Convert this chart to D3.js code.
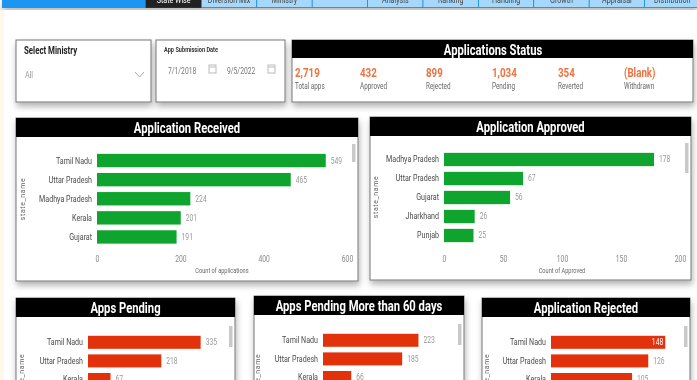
<!DOCTYPE html>
<html>
<head>
<meta charset="utf-8">
<script src="https://cdn.jsdelivr.net/npm/d3@7/dist/d3.min.js"></script>
<style>
html, body { margin: 0; padding: 0; background: #fff; overflow: hidden; }
svg { display: block; filter: blur(0.45px); }
text { font-family: "Roboto", sans-serif; }
</style>
</head>
<body>
<div id="root"></div>
<script>
// values
const navLabels = ['State Wise', 'Diversion Mix', 'Ministry', '', 'Analysis', 'Ranking', 'Handling', 'Growth', 'Appraisal', 'Distribution'];

const statusValues = ['2,719', '432', '899', '1,034', '354', '(Blank)'];
const statusLabels = ['Total apps', 'Approved', 'Rejected', 'Pending', 'Reverted', 'Withdrawn'];

const receivedStates = ['Tamil Nadu', 'Uttar Pradesh', 'Madhya Pradesh', 'Kerala', 'Gujarat'];
const receivedValues = [549, 465, 224, 201, 191];
const receivedTicks = [0, 200, 400, 600];

const approvedStates = ['Madhya Pradesh', 'Uttar Pradesh', 'Gujarat', 'Jharkhand', 'Punjab'];
const approvedValues = [178, 67, 56, 26, 25];
const approvedTicks = [0, 50, 100, 150, 200];

const pendingStates = ['Tamil Nadu', 'Uttar Pradesh', 'Kerala'];
const pendingValues = [335, 218, 67];
const pending60Values = [223, 185, 66];
const rejectedValues = [148, 126, 105];

const width = 697, height = 380;
const green = '#0ea42e', red = '#e2320c', orange = '#ee7240';
const squeeze = 0.75;

const svg = d3.select('#root').append('svg').attr('width', width).attr('height', height);
const defs = svg.append('defs');
const shadow = defs.append('filter').attr('id', 'shadow').attr('x', '-5%').attr('y', '-10%').attr('width', '110%').attr('height', '125%');
shadow.append('feDropShadow').attr('dx', 1).attr('dy', 4).attr('stdDeviation', 3).attr('flood-color', '#000').attr('flood-opacity', 0.3);

svg.append('rect').attr('width', width).attr('height', height).attr('fill', '#fff');
svg.append('rect').attr('width', 4).attr('height', height).attr('fill', '#fff8ea');

// top nav strip
svg.append('rect').attr('x', 2).attr('y', 0).attr('width', 695).attr('height', 8).attr('fill', '#1a96f0').attr('filter', 'url(#shadow)');
const navX = d3.scaleBand().domain(d3.range(navLabels.length)).range([146, 700]).padding(0);
const nav = svg.append('g').selectAll('g').data(navLabels).enter().append('g');
nav.append('rect')
    .attr('x', (d, i) => navX(i))
    .attr('y', -1)
    .attr('width', navX.bandwidth())
    .attr('height', 8.5)
    .attr('fill', (d, i) => i == 0 ? '#222' : '#a6d8fb')
    .attr('stroke', (d, i) => i == 0 ? '#222' : '#1a86d8')
    .attr('stroke-width', 0.7);
nav.append('text')
    .attr('x', (d, i) => navX(i) + navX.bandwidth() / 2)
    .attr('y', 2.5)
    .attr('text-anchor', 'middle')
    .attr('font-size', 9.5)
    .attr('fill', (d, i) => i == 0 ? '#fff' : '#444')
    .text(d => d);

function card(x, y, w, h) {
    return svg.append('rect').attr('x', x).attr('y', y).attr('width', w).attr('height', h)
        .attr('fill', '#fff').attr('stroke', '#777').attr('stroke-width', 1).attr('filter', 'url(#shadow)');
}

function calendar(x, y) {
    const g = svg.append('g').attr('transform', 'translate(' + x + ',' + y + ')').attr('fill', 'none').attr('stroke', '#bbb');
    g.append('rect').attr('width', 7).attr('height', 8);
    g.append('line').attr('x1', 0).attr('x2', 7).attr('y1', 2).attr('y2', 2);
}

// slicers
card(16, 40, 135, 62);
svg.append('text').attr('x', 24).attr('y', 54).attr('font-size', 10.5).attr('font-weight', 700).attr('fill', '#222').text('Select Ministry');
svg.append('text').attr('x', 25).attr('y', 78).attr('font-size', 9.5).attr('fill', '#999').text('All');
svg.append('path').attr('d', d3.line()([[135, 72], [139.5, 77], [144, 72]])).attr('fill', 'none').attr('stroke', '#aaa');

card(156, 40, 129, 62);
svg.append('text').attr('x', 164).attr('y', 52).attr('font-size', 7.5).attr('font-weight', 700).attr('fill', '#333').text('App Submission Date');
svg.append('text').attr('x', 168).attr('y', 74.5).attr('font-size', 9).attr('fill', '#777').text('7/1/2018');
svg.append('text').attr('x', 227).attr('y', 74.5).attr('font-size', 9).attr('fill', '#777').text('9/5/2022');
calendar(209, 65);
calendar(268, 65);

// status band
card(292, 40, 401, 62);
svg.append('rect').attr('x', 292).attr('y', 40).attr('width', 401).attr('height', 18).attr('fill', '#000');
svg.append('text').attr('x', 493).attr('y', 55).attr('text-anchor', 'middle').attr('font-size', 15).attr('font-weight', 700).attr('fill', '#fff').text('Applications Status');

const statusX = d3.scaleOrdinal().domain(statusLabels).range([295, 360, 426, 492, 558, 624]);
const status = svg.append('g').selectAll('g').data(statusLabels).enter().append('g');
status.append('text').attr('x', d => statusX(d)).attr('y', 77).attr('font-size', 13).attr('font-weight', 700).attr('fill', orange)
    .text((d, i) => statusValues[i]);
status.append('text').attr('x', d => statusX(d)).attr('y', 89.5).attr('font-size', 8.5).attr('fill', '#666').text(d => d);

// one titled bar panel, bars and axis come from the scales
function barPanel(o) {
    card(o.x, o.y, o.w, o.h);
    svg.append('rect').attr('x', o.x).attr('y', o.y).attr('width', o.w).attr('height', o.titleH).attr('fill', '#000');
    svg.append('text').attr('x', o.x + o.w / 2).attr('y', o.y + o.titleH - 4).attr('text-anchor', 'middle')
        .attr('font-size', 15).attr('font-weight', 700).attr('fill', '#fff').text(o.title);

    const xScale = d3.scaleLinear().domain(o.domain).range([o.left, o.right]);
    const yScale = d3.scaleBand().domain(o.states).range([o.top, o.top + o.states.length * o.step]).paddingInner(0.3).paddingOuter(0.15);

    const g = svg.append('g');
    g.selectAll('rect').data(o.states).enter().append('rect')
        .attr('x', o.left)
        .attr('y', d => yScale(d))
        .attr('width', (d, i) => xScale(o.values[i]) - o.left)
        .attr('height', yScale.bandwidth())
        .attr('fill', o.color);

    g.selectAll('.cat').data(o.states).enter().append('text').attr('class', 'cat')
        .attr('x', o.left - 5)
        .attr('y', d => yScale(d) + yScale.bandwidth() / 2 + 3)
        .attr('text-anchor', 'end').attr('font-size', 9.5).attr('fill', '#4a4a4a').text(d => d);

    g.selectAll('.val').data(o.states).enter().append('text').attr('class', 'val')
        .attr('x', (d, i) => o.inside && o.inside.includes(i) ? xScale(o.values[i]) - 2 : xScale(o.values[i]) + 5)
        .attr('y', d => yScale(d) + yScale.bandwidth() / 2 + 3)
        .attr('text-anchor', (d, i) => o.inside && o.inside.includes(i) ? 'end' : 'start')
        .attr('font-size', 9)
        .attr('fill', (d, i) => o.inside && o.inside.includes(i) ? '#fff' : '#999')
        .text((d, i) => o.values[i]);

    // state_name axis title
    svg.append('text').attr('class', 'upright').attr('transform', 'translate(' + o.axisX + ',' + o.axisY + ') rotate(-90)')
        .attr('text-anchor', 'middle').attr('font-size', 7).attr('letter-spacing', 0.6).attr('fill', '#666').text('state_name');

    // scrollbar
    svg.append('rect').attr('x', o.x + o.w - 6).attr('y', o.top - 7).attr('width', 3.5).attr('height', o.scrollH).attr('fill', '#c9c9c9');

    if (o.ticks) {
        const axis = d3.axisBottom(xScale).tickValues(o.ticks).tickSize(0).tickPadding(0);
        const ag = svg.append('g').attr('transform', 'translate(0,' + o.tickY + ')').call(axis);
        ag.select('.domain').remove();
        ag.selectAll('text').attr('font-size', 9).attr('fill', '#888').attr('font-family', '"Roboto", sans-serif');
        svg.append('text').attr('x', (o.left + o.right) / 2 + o.xTitleDx).attr('y', o.tickY + 17).attr('text-anchor', 'middle')
            .attr('font-size', 7.5).attr('fill', '#666').text(o.xTitle);
    }
}

barPanel({ x: 16, y: 118, w: 342, h: 163, titleH: 19, title: 'Application Received', states: receivedStates, values: receivedValues,
    domain: [0, 600], left: 97, right: 347, top: 151, step: 19.1, color: green, ticks: receivedTicks, tickY: 256, xTitle: 'Count of applications', xTitleDx: 0,
    axisX: 25, axisY: 199, scrollH: 18 });
barPanel({ x: 370, y: 117, w: 321, h: 163, titleH: 19, title: 'Application Approved', states: approvedStates, values: approvedValues,
    domain: [0, 200], left: 444, right: 680, top: 150, step: 19, color: green, ticks: approvedTicks, tickY: 256, xTitle: 'Count of Approved', xTitleDx: 0,
    axisX: 378, axisY: 197, scrollH: 30 });

barPanel({ x: 16, y: 298, w: 219, h: 100, titleH: 19, title: 'Apps Pending', states: pendingStates, values: pendingValues,
    domain: [0, 400], left: 88, right: 222.5, top: 333, step: 18.6, color: red, axisX: 24, axisY: 375, scrollH: 21 });
barPanel({ x: 254, y: 296, w: 210, h: 100, titleH: 19, title: 'Apps Pending More than 60 days', states: pendingStates, values: pending60Values,
    domain: [0, 250], left: 323, right: 430, top: 331, step: 18.6, color: red, axisX: 260, axisY: 375, scrollH: 21 });
barPanel({ x: 482, y: 298, w: 208, h: 100, titleH: 19, title: 'Application Rejected', states: pendingStates, values: rejectedValues,
    domain: [0, 160], left: 551, right: 674.5, top: 333, step: 18.6, color: red, inside: [0], axisX: 489, axisY: 375, scrollH: 21 });

// the dashboard font is a condensed one, squeeze every horizontal text around its anchor
svg.selectAll('text:not(.upright)').each(function() {
    const t = d3.select(this), x = +t.attr('x') || 0;
    t.attr('transform', 'translate(' + x + ',0) scale(' + squeeze + ',1) translate(' + (-x) + ',0)');
});
</script>
</body>
</html>
